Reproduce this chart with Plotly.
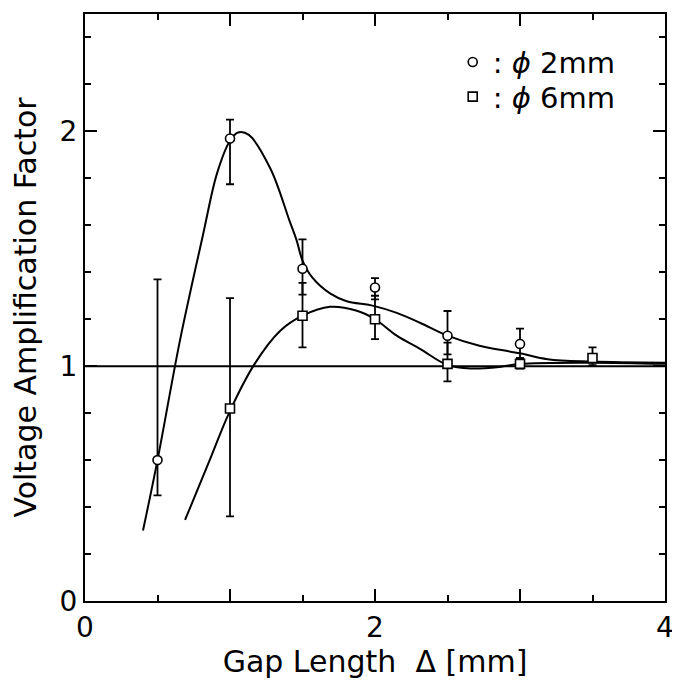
import plotly.graph_objects as go

# ---- data ----
gap_2mm = [0.5, 1.0, 1.5, 2.0, 2.5, 3.0]
amp_2mm = [0.60, 1.97, 1.415, 1.335, 1.13, 1.095]
err_up_2mm = [0.77, 0.08, 0.125, 0.04, 0.105, 0.065]
err_dn_2mm = [0.15, 0.195, 0.11, 0.05, 0.08, 0.06]

gap_6mm = [1.0, 1.5, 2.0, 2.5, 3.0, 3.5]
amp_6mm = [0.82, 1.215, 1.20, 1.01, 1.01, 1.035]
err_up_6mm = [0.47, 0.14, 0.10, 0.09, 0.02, 0.045]
err_dn_6mm = [0.46, 0.135, 0.085, 0.075, 0.02, 0.03]

curve_x_2mm = [0.40, 0.50, 0.655, 0.814, 0.91, 1.00, 1.055, 1.13, 1.28, 1.41,
               1.46, 1.50, 1.57, 1.69, 1.80, 1.99, 2.15, 2.31, 2.50, 2.72, 3.00,
               3.19, 3.50, 4.00]
curve_y_2mm = [0.30, 0.60, 1.11, 1.56, 1.82, 1.96, 1.995, 1.985, 1.84, 1.62,
               1.535, 1.45, 1.376, 1.31, 1.278, 1.257, 1.227, 1.185, 1.13, 1.087, 1.055,
               1.03, 1.02, 1.015]

curve_x_6mm = [0.69, 0.85, 1.00, 1.17, 1.345, 1.50, 1.69, 1.875, 2.00, 2.15, 2.31,
               2.50, 2.66, 2.86, 3.00, 3.50, 4.00]
curve_y_6mm = [0.345, 0.585, 0.81, 1.01, 1.15, 1.215, 1.253, 1.236, 1.20, 1.13, 1.074,
               1.005, 0.99, 0.997, 1.01, 1.015, 1.01]

ref_x = [0, 4]
ref_y = [1, 1]

x_tickvals = [0, 1, 2, 3, 4]
x_ticktext = ["0", "", "2", "", "4"]
y_tickvals = [0, 1, 2]
y_ticktext = ["0", "1", "2"]

FONT = "DejaVu Sans"

fig = go.Figure()

fig.add_trace(go.Scatter(x=ref_x, y=ref_y, mode="lines",
                         line=dict(color="black", width=2), showlegend=False,
                         hoverinfo="skip"))
fig.add_trace(go.Scatter(x=curve_x_2mm, y=curve_y_2mm, mode="lines",
                         line=dict(color="black", width=2, shape="spline", smoothing=1.0),
                         showlegend=False))
fig.add_trace(go.Scatter(x=curve_x_6mm, y=curve_y_6mm, mode="lines",
                         line=dict(color="black", width=2, shape="spline", smoothing=1.0),
                         showlegend=False))

fig.add_trace(go.Scatter(
    x=gap_6mm, y=amp_6mm, mode="markers", name=": <i>ϕ</i> 6mm", legend="legend2",
    marker=dict(symbol="square", size=9, color="white",
                line=dict(color="black", width=1.6)),
    error_y=dict(type="data", symmetric=False, array=err_up_6mm,
                 arrayminus=err_dn_6mm, color="black", thickness=1.8, width=4),
))
fig.add_trace(go.Scatter(
    x=gap_2mm, y=amp_2mm, mode="markers", name=": <i>ϕ</i> 2mm", legend="legend",
    marker=dict(symbol="circle", size=9, color="white",
                line=dict(color="black", width=1.6)),
    error_y=dict(type="data", symmetric=False, array=err_up_2mm,
                 arrayminus=err_dn_2mm, color="black", thickness=1.8, width=4),
))

axis_common = dict(
    showgrid=False, zeroline=False, showline=True, linecolor="black", linewidth=2,
    mirror="ticks", ticks="inside", ticklen=12, tickwidth=1.5, tickcolor="black",
    tickfont=dict(family=FONT, size=28, color="black"), automargin=False,
)

fig.update_xaxes(
    range=[0, 4], tickvals=x_tickvals, ticktext=x_ticktext,
    minor=dict(dtick=0.5, ticks="inside", ticklen=6, tickwidth=1.5, tickcolor="black"),
    title=dict(text="Gap Length  Δ [mm]", font=dict(family=FONT, size=30, color="black"),
               standoff=8),
    **axis_common,
)
fig.update_yaxes(
    range=[0, 2.5], tickvals=y_tickvals, ticktext=y_ticktext,
    minor=dict(dtick=0.2, ticks="inside", ticklen=6, tickwidth=1.5, tickcolor="black"),
    title=dict(text="Voltage Amplification Factor",
               font=dict(family=FONT, size=30, color="black"), standoff=22),
    **axis_common,
)

legend_style = dict(xanchor="left", yanchor="middle", bgcolor="rgba(0,0,0,0)",
                    borderwidth=0, font=dict(family=FONT, size=29, color="black"),
                    itemwidth=30)

# the page body adds an 8px offset, so the figure is sized/margined to compensate
fig.update_layout(
    width=672, height=677,
    margin=dict(l=77, r=15, t=6, b=84),
    plot_bgcolor="white", paper_bgcolor="white",
    font=dict(family=FONT, color="black"),
    legend=dict(x=0.634, y=0.918, **legend_style),
    legend2=dict(x=0.634, y=0.859, **legend_style),
    showlegend=True,
)

fig.write_html("out.html")
